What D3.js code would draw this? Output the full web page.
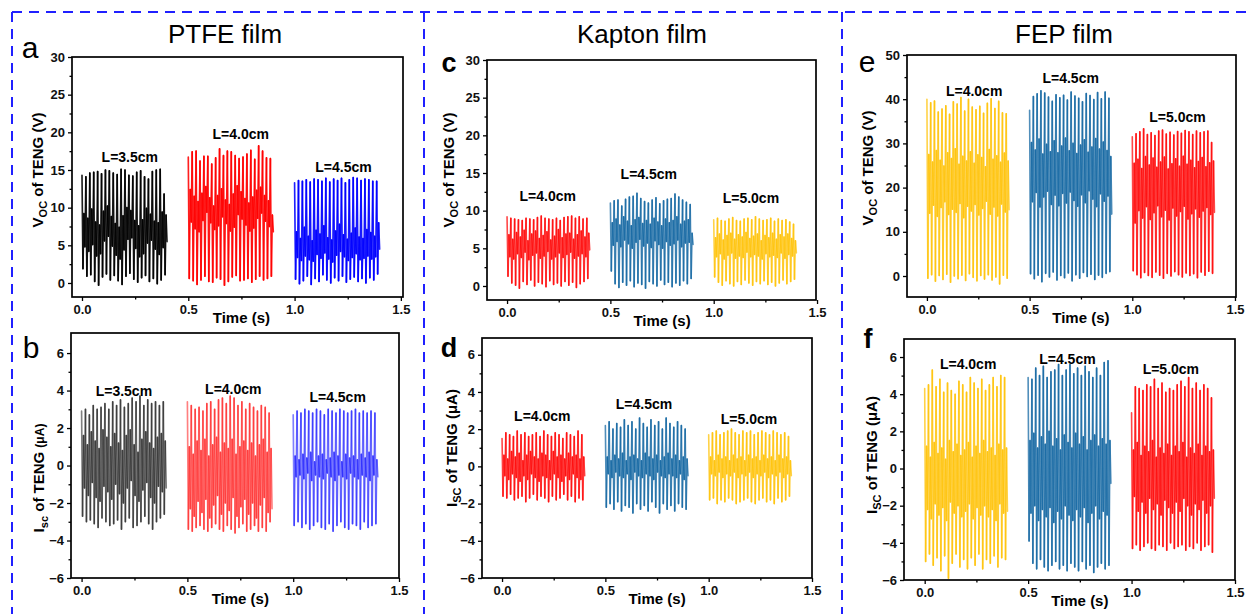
<!DOCTYPE html>
<html>
<head>
<meta charset="utf-8">
<script src="https://cdn.jsdelivr.net/npm/d3@7"></script>
<style>
  html, body { margin: 0; padding: 0; background: #fff; }
  svg { display: block; font-family: "Liberation Sans", Arial, sans-serif; }
</style>
</head>
<body>
<svg id="fig" width="1248" height="614"></svg>
<script>
// ---- axis ticks and labels ----
const timeTicks = [0, 0.5, 1.0, 1.5];
const timeMinor = [0.25, 0.75, 1.25];
const vocTicks30 = [0, 5, 10, 15, 20, 25, 30];
const vocMinor30 = [2.5, 7.5, 12.5, 17.5, 22.5, 27.5];
const vocTicks50 = [0, 10, 20, 30, 40, 50];
const vocMinor50 = [5, 15, 25, 35, 45];
const iscTicks = [-6, -4, -2, 0, 2, 4, 6];
const iscMinor = [-5, -3, -1, 1, 3, 5];

const films = ["PTFE film", "Kapton film", "FEP film"];
const ptfeLabels = ["L=3.5cm", "L=4.0cm", "L=4.5cm"];
const kaptonLabels = ["L=4.0cm", "L=4.5cm", "L=5.0cm"];
const fepLabels = ["L=4.0cm", "L=4.5cm", "L=5.0cm"];

// each recording window (s)
const segStart = [0, 0.5, 1.0];
const segEnd = [0.4, 0.9, 1.4];

// ---- traces: per cycle peak, valley, ring high, ring low ----
// PTFE, Voc (V)
const ptfeVoc35 = [
  14.3, 1.9, 9.2, 4.8,  14.1, 0.9, 8.6, 4.2,  14.6, 1.1, 9.8, 5.1,  14.7, 0.2, 8.1, 3.6,
  14.8, -0.3, 7.7, 3.9,  14.5, 0.8, 9.5, 5.6,  15.0, 1.2, 10.2, 6.2,  14.9, 0.4, 8.8, 4.9,
  14.6, 1.0, 7.9, 3.7,  14.4, 0.3, 7.4, 3.2,  15.1, -0.2, 8.9, 4.4,  15.0, 0.9, 10.0, 5.8,
  14.3, 1.3, 9.6, 6.0,  14.2, 0.5, 8.3, 4.6,  14.7, 0.1, 7.6, 3.5,  14.9, 0.7, 8.4, 3.9,
  14.1, 1.0, 9.9, 5.3,  13.8, 0.2, 9.1, 5.7,  14.8, 0.6, 8.2, 4.5,  15.0, -0.1, 8.0, 3.8,
  15.1, 0.4, 9.4, 4.7,  11.8, 1.1, 9.0, 5.5
];
const ptfeVoc40 = [
  16.7, 0.6, 12.4, 8.1,  17.4, 0.3, 11.5, 7.2,  17.5, -0.2, 10.8, 6.8,  16.2, 0.4, 11.9, 8.3,
  16.8, 0.9, 12.8, 9.4,  16.8, 0.2, 11.3, 8.0,  15.8, 0.1, 10.2, 7.1,  16.6, 0.7, 11.6, 7.6,
  17.8, 0.5, 12.5, 8.8,  16.9, -0.3, 11.0, 7.9,  17.5, 0.2, 10.4, 6.9,  17.4, 0.8, 11.8, 7.4,
  16.9, 1.0, 12.9, 9.1,  16.5, 0.3, 12.1, 8.5,  16.7, 0.4, 11.2, 7.7,  17.1, 0.6, 10.6, 6.9,
  17.6, 0.1, 11.4, 7.3,  16.4, 0.5, 12.3, 8.6,  18.2, 0.9, 12.7, 9.3,  17.5, 0.4, 11.6, 8.2,
  16.6, 0.6, 10.9, 7.5,  16.5, 0.9, 9.0, 6.8
];
const ptfeVoc45 = [
  13.3, 0.5, 6.8, 3.4,  13.6, -0.1, 5.9, 3.0,  13.5, 0.3, 7.4, 3.6,  13.7, 0.9, 6.2, 3.1,
  13.4, -0.2, 5.6, 2.9,  13.8, 0.6, 7.0, 3.8,  13.7, 0.2, 6.5, 3.3,  13.5, 1.1, 7.6, 4.0,
  13.9, 0.4, 6.0, 3.2,  13.4, 0.0, 5.7, 2.8,  13.8, 0.7, 6.9, 3.7,  13.6, 0.3, 7.8, 4.2,
  13.9, 0.9, 6.4, 3.5,  13.3, 0.1, 5.8, 3.0,  13.7, 0.5, 6.6, 3.4,  14.0, 0.8, 7.3, 3.9,
  13.9, 0.2, 6.1, 3.1,  13.6, 0.6, 5.9, 3.3,  13.8, 0.0, 7.1, 3.6,  13.7, 0.7, 6.7, 3.2,
  13.5, 0.4, 6.2, 3.5,  13.5, 1.2, 8.0, 4.5
];
// PTFE, Isc (uA)
const ptfeIsc35 = [
  2.9, -2.7, 1.6, -1.2,  3.0, -3.0, 1.1, -1.6,  2.7, -2.9, 1.8, -0.9,  3.2, -3.1, 1.3, -1.7,
  3.0, -3.3, 0.9, -1.9,  3.1, -2.8, 1.9, -1.1,  3.3, -3.0, 1.5, -1.4,  3.0, -3.2, 1.0, -1.8,
  3.4, -3.1, 1.7, -1.0,  3.2, -2.9, 1.2, -1.5,  3.5, -3.4, 0.8, -2.0,  3.1, -3.0, 1.6, -1.2,
  3.3, -2.8, 1.9, -0.8,  3.6, -3.3, 1.1, -1.6,  3.4, -3.2, 0.7, -1.9,  3.7, -3.0, 1.4, -1.3,
  3.2, -2.7, 1.8, -0.9,  3.5, -3.1, 1.2, -1.7,  3.3, -3.4, 0.9, -2.0,  3.4, -3.0, 1.5, -1.1,
  3.2, -2.8, 1.7, -1.4,  3.4, -2.6, 1.3, -1.2
];
const ptfeIsc40 = [
  3.4, -3.4, 1.0, -2.3,  3.2, -3.5, 0.6, -2.7,  3.0, -3.3, 1.3, -1.9,  3.1, -3.2, 0.8, -2.5,
  2.9, -3.4, 1.4, -1.8,  3.3, -3.5, 0.5, -2.8,  3.4, -3.3, 1.1, -2.1,  3.0, -3.1, 1.5, -1.6,
  3.5, -3.4, 0.7, -2.6,  3.6, -3.5, 1.2, -2.0,  3.3, -3.2, 0.9, -2.4,  3.7, -3.4, 1.4, -1.7,
  3.6, -3.6, 0.6, -2.7,  3.2, -3.3, 1.0, -2.2,  3.4, -3.1, 1.3, -1.8,  3.0, -3.5, 0.8, -2.6,
  3.3, -3.4, 1.2, -2.0,  3.1, -3.2, 0.5, -2.8,  2.9, -3.5, 1.1, -2.1,  3.2, -3.3, 1.4, -1.7,
  3.1, -3.5, 0.7, -2.5,  2.8, -3.0, 0.9, -2.3
];
const ptfeIsc45 = [
  2.7, -3.2, 0.5, -0.6,  2.9, -3.0, 0.3, -0.5,  2.8, -3.3, 0.6, -0.7,  3.0, -3.1, 0.4, -0.4,
  2.9, -3.4, 0.7, -0.8,  2.8, -3.2, 0.2, -0.5,  3.0, -3.0, 0.5, -0.6,  2.9, -3.3, 0.6, -0.7,
  2.7, -3.4, 0.3, -0.4,  3.0, -3.1, 0.4, -0.6,  2.9, -3.5, 0.7, -0.8,  2.8, -3.2, 0.5, -0.5,
  3.0, -3.0, 0.2, -0.6,  2.9, -3.3, 0.6, -0.7,  2.8, -3.4, 0.4, -0.4,  2.9, -3.1, 0.5, -0.6,
  3.0, -3.2, 0.3, -0.7,  2.8, -3.4, 0.6, -0.5,  2.9, -3.0, 0.4, -0.6,  2.8, -3.3, 0.7, -0.8,
  2.9, -3.2, 0.5, -0.5,  2.8, -3.1, 0.3, -0.6
];
// Kapton, Voc (V)
const kaptonVoc40 = [
  9.2, 1.3, 6.8, 3.9,  9.0, 0.4, 6.2, 3.6,  8.9, 0.1, 7.1, 4.3,  8.8, -0.3, 6.5, 3.8,
  8.7, 0.6, 7.4, 4.5,  9.0, 0.2, 6.0, 3.5,  8.9, 0.8, 6.9, 4.1,  8.8, 0.0, 7.3, 4.4,
  9.1, 0.5, 6.3, 3.7,  9.3, 0.3, 6.7, 4.0,  9.0, -0.1, 7.2, 4.6,  8.9, 0.7, 6.1, 3.6,
  8.8, 0.2, 6.6, 3.9,  9.0, 0.4, 7.5, 4.4,  8.7, 0.0, 6.4, 3.8,  9.1, 0.6, 6.9, 4.2,
  9.2, 0.1, 7.0, 4.5,  9.3, 0.5, 6.2, 3.7,  9.0, -0.2, 6.8, 4.0,  9.2, 0.3, 7.3, 4.3,
  8.9, 0.6, 6.5, 3.9,  9.0, 1.0, 7.0, 4.8
];
const kaptonVoc45 = [
  11.0, 2.0, 8.4, 5.4,  11.3, 0.3, 8.9, 5.9,  11.4, -0.2, 8.1, 5.2,  10.6, 0.5, 9.2, 6.1,
  11.5, 0.1, 8.6, 5.6,  11.8, 0.7, 8.0, 5.0,  11.9, -0.1, 8.8, 5.8,  12.3, 0.4, 9.1, 6.2,
  11.6, 0.2, 8.3, 5.3,  11.2, -0.3, 8.7, 5.7,  11.0, 0.6, 8.2, 5.1,  11.4, 0.3, 9.0, 6.0,
  11.7, 0.0, 8.5, 5.5,  10.9, 0.8, 8.0, 5.0,  11.3, 0.2, 8.9, 5.9,  11.5, 0.5, 8.4, 5.4,
  11.6, -0.1, 8.7, 5.6,  12.2, 0.4, 9.2, 6.1,  11.8, 0.1, 8.2, 5.2,  11.4, 0.7, 8.6, 5.7,
  11.1, 0.3, 8.8, 5.8,  10.8, 1.0, 7.0, 5.5
];
const kaptonVoc50 = [
  8.8, 1.2, 6.4, 3.9,  9.0, 0.5, 6.9, 4.3,  8.7, 0.1, 6.1, 3.6,  8.6, 0.7, 6.7, 4.1,
  8.9, 0.3, 7.0, 4.4,  9.1, 0.0, 6.2, 3.7,  8.7, 0.6, 6.8, 4.0,  8.6, 0.2, 6.5, 3.8,
  8.9, 0.8, 7.1, 4.5,  9.0, 0.4, 6.3, 3.9,  8.8, 0.1, 6.6, 4.2,  9.2, 0.6, 6.9, 4.0,
  8.9, 0.3, 6.0, 3.6,  8.7, 0.7, 6.7, 4.3,  8.8, 0.2, 6.4, 3.9,  9.0, 0.5, 7.0, 4.1,
  8.6, 0.0, 6.2, 3.8,  8.9, 0.4, 6.8, 4.4,  8.7, 0.8, 6.5, 3.7,  8.8, 0.3, 6.9, 4.2,
  8.5, 0.6, 6.3, 4.0,  8.2, 0.9, 6.0, 4.4
];
// Kapton, Isc (uA)
const kaptonIsc40 = [
  1.5, -1.6, 0.6, -0.5,  1.8, -1.7, 0.4, -0.7,  1.7, -1.5, 0.8, -0.4,  1.6, -1.8, 0.5, -0.6,
  1.9, -1.7, 0.7, -0.8,  1.7, -1.6, 0.3, -0.5,  1.8, -1.9, 0.6, -0.7,  1.6, -1.7, 0.8, -0.4,
  1.7, -1.5, 0.5, -0.6,  1.8, -1.8, 0.4, -0.8,  1.6, -1.6, 0.7, -0.5,  1.9, -1.7, 0.6, -0.6,
  1.7, -1.9, 0.3, -0.7,  1.6, -1.6, 0.8, -0.4,  1.8, -1.8, 0.5, -0.6,  1.7, -1.7, 0.6, -0.8,
  1.5, -1.5, 0.4, -0.5,  1.8, -1.8, 0.7, -0.7,  1.7, -1.6, 0.5, -0.4,  1.6, -1.9, 0.6, -0.6,
  1.9, -1.7, 0.4, -0.7,  1.7, -1.8, 0.5, -0.5
];
const kaptonIsc45 = [
  2.2, -2.2, 0.5, -0.4,  2.4, -2.0, 0.3, -0.6,  2.0, -2.3, 0.6, -0.3,  2.3, -1.9, 0.4, -0.5,
  2.1, -2.4, 0.7, -0.6,  2.5, -2.1, 0.3, -0.4,  2.2, -2.2, 0.5, -0.7,  2.4, -2.5, 0.6, -0.3,
  2.0, -2.0, 0.4, -0.5,  2.6, -2.3, 0.3, -0.6,  2.3, -2.1, 0.7, -0.4,  2.1, -2.4, 0.5, -0.5,
  2.5, -1.9, 0.4, -0.7,  2.2, -2.2, 0.6, -0.3,  2.4, -2.5, 0.3, -0.5,  2.0, -2.0, 0.5, -0.6,
  2.6, -2.3, 0.7, -0.4,  2.3, -2.1, 0.4, -0.5,  2.1, -2.4, 0.6, -0.6,  2.4, -2.0, 0.3, -0.4,
  2.2, -2.2, 0.5, -0.7,  2.0, -2.3, 0.4, -0.5
];
const kaptonIsc50 = [
  1.7, -1.8, 0.5, -0.4,  1.8, -1.7, 0.3, -0.5,  1.9, -2.0, 0.6, -0.3,  1.7, -1.8, 0.4, -0.6,
  1.8, -1.9, 0.5, -0.4,  1.9, -1.7, 0.3, -0.5,  2.0, -1.8, 0.6, -0.3,  1.8, -2.0, 0.4, -0.6,
  1.7, -1.9, 0.5, -0.4,  1.9, -1.8, 0.3, -0.5,  1.8, -1.7, 0.6, -0.3,  1.9, -1.9, 0.4, -0.6,
  1.7, -2.0, 0.5, -0.4,  1.8, -1.8, 0.3, -0.5,  1.9, -1.7, 0.6, -0.3,  1.8, -1.9, 0.4, -0.6,
  1.7, -1.8, 0.5, -0.4,  1.9, -2.0, 0.3, -0.5,  1.8, -1.7, 0.6, -0.3,  1.7, -1.9, 0.4, -0.6,
  1.8, -1.8, 0.5, -0.4,  1.6, -1.6, 0.3, -0.5
];
// FEP, Voc (V)
const fepVoc40 = [
  40.0, -0.5, 27.5, 14.2,  39.2, 0.3, 25.8, 16.0,  39.6, -1.2, 28.4, 13.5,  37.1, 0.1, 26.2, 15.5,
  37.8, -0.8, 24.9, 16.8,  38.5, 0.4, 27.9, 13.9,  36.6, -1.4, 26.6, 15.1,  39.4, 0.0, 28.8, 14.4,
  38.9, -0.6, 25.3, 16.4,  40.4, 0.2, 27.1, 13.2,  37.3, -1.0, 26.0, 15.8,  40.0, 0.5, 28.1, 14.7,
  38.2, -0.3, 25.5, 16.2,  37.6, -1.1, 27.4, 13.8,  38.4, 0.1, 26.8, 15.3,  36.8, -0.7, 24.7, 16.9,
  39.1, 0.3, 28.6, 14.0,  40.1, -0.9, 26.4, 15.6,  37.9, -0.2, 27.2, 13.6,  39.5, -1.8, 25.7, 16.3,
  36.9, 0.2, 27.8, 14.5,  36.7, -0.5, 26.0, 15.0
];
const fepVoc45 = [
  37.5, 0.5, 30.2, 16.8,  40.6, -0.6, 28.5, 18.9,  41.2, 0.2, 31.0, 15.6,  41.9, -1.3, 27.6, 17.9,
  41.4, 0.6, 29.8, 19.2,  40.5, -0.2, 28.1, 16.2,  39.5, 0.9, 30.6, 18.3,  41.0, -0.9, 27.9, 15.9,
  40.3, 0.1, 29.4, 18.7,  40.9, -0.4, 31.2, 16.5,  39.8, 0.7, 28.3, 19.0,  41.6, -1.1, 30.0, 17.1,
  40.7, 0.3, 27.7, 15.8,  40.2, -0.5, 29.6, 18.4,  39.4, 0.8, 30.8, 16.6,  41.3, -0.1, 28.0, 19.3,
  40.8, 0.4, 29.2, 17.4,  39.9, -0.8, 31.1, 15.7,  41.5, 0.2, 28.7, 18.6,  40.1, -0.3, 30.3, 16.9,
  41.6, 0.6, 28.4, 18.1,  40.2, 1.0, 27.0, 14.0
];
const fepVoc50 = [
  31.5, 1.2, 25.5, 12.0,  32.2, 0.3, 26.4, 14.8,  32.6, -0.4, 24.3, 13.1,  33.3, 0.8, 27.0, 15.7,
  32.0, 0.1, 25.1, 12.8,  32.4, -0.3, 26.7, 14.3,  31.8, 0.9, 24.6, 15.9,  32.8, 0.2, 25.8, 13.4,
  33.0, -0.5, 26.9, 14.9,  32.1, 0.6, 24.2, 12.7,  32.5, 0.0, 25.4, 15.4,  31.9, 1.0, 26.5, 13.6,
  32.7, 0.3, 24.8, 14.6,  32.3, -0.2, 27.1, 15.8,  32.9, 0.7, 25.3, 12.9,  32.6, 0.1, 26.2, 14.1,
  32.0, 0.5, 24.5, 15.2,  32.8, -0.4, 25.9, 13.3,  32.4, 0.9, 26.8, 14.7,  32.6, 0.2, 24.7, 15.5,
  32.8, 1.1, 25.6, 13.9,  30.2, 0.6, 26.0, 14.4
];
// FEP, Isc (uA)
const fepIsc40 = [
  4.3, -5.0, 1.2, -2.2,  4.5, -4.6, 0.6, -2.7,  5.3, -5.2, 1.4, -1.9,  4.4, -4.8, 0.8, -2.5,
  4.8, -5.5, 1.1, -2.1,  4.1, -4.7, 0.5, -2.8,  4.6, -5.9, 1.5, -1.8,  4.2, -5.1, 0.9, -2.4,
  4.0, -4.6, 1.3, -2.0,  4.7, -5.3, 0.7, -2.6,  4.5, -4.9, 1.0, -2.3,  4.1, -5.4, 1.4, -1.9,
  4.9, -4.8, 0.6, -2.7,  4.6, -5.2, 1.2, -2.1,  4.3, -4.6, 0.8, -2.5,  4.8, -5.4, 1.5, -2.0,
  4.2, -4.9, 0.9, -2.6,  4.5, -5.1, 1.1, -2.2,  4.9, -4.7, 0.7, -2.8,  4.4, -5.3, 1.3, -1.9,
  5.0, -4.8, 1.0, -2.4,  4.9, -4.9, 1.1, -2.3
];
const fepIsc45 = [
  4.9, -3.9, 1.5, -2.4,  4.8, -5.1, 1.9, -2.0,  5.4, -5.4, 1.1, -2.8,  5.0, -4.9, 1.7, -2.2,
  5.5, -5.3, 1.3, -2.6,  4.9, -5.5, 2.0, -2.1,  5.2, -5.2, 1.2, -2.9,  5.3, -5.0, 1.6, -2.3,
  5.6, -5.4, 1.0, -2.7,  5.0, -5.2, 1.8, -2.0,  5.3, -5.5, 1.4, -2.5,  5.6, -5.1, 1.1, -2.8,
  5.1, -5.3, 1.9, -2.2,  5.4, -5.5, 1.3, -2.6,  5.0, -5.0, 1.7, -2.1,  5.5, -5.4, 1.0, -2.9,
  5.2, -5.2, 1.5, -2.4,  4.9, -5.6, 1.8, -2.0,  5.4, -5.3, 1.2, -2.7,  5.0, -5.1, 1.6, -2.3,
  5.7, -5.4, 1.3, -2.5,  5.8, -5.2, 1.5, -0.8
];
const fepIsc50 = [
  3.0, -4.3, 1.0, -1.5,  4.4, -4.1, 1.4, -2.3,  4.3, -4.4, 0.7, -1.8,  4.2, -4.2, 1.2, -2.4,
  4.5, -4.0, 0.9, -1.6,  4.4, -4.3, 1.5, -2.2,  4.8, -4.4, 0.6, -1.9,  4.3, -4.1, 1.1, -2.5,
  4.6, -4.2, 0.8, -1.7,  4.1, -4.4, 1.3, -2.1,  4.3, -4.0, 0.7, -2.4,  4.2, -4.3, 1.2, -1.8,
  4.5, -4.2, 0.9, -2.3,  4.7, -4.1, 1.4, -1.6,  4.4, -4.4, 0.6, -2.0,  4.9, -4.2, 1.1, -2.5,
  4.3, -4.3, 0.8, -1.9,  4.6, -4.0, 1.3, -2.2,  4.2, -4.4, 0.7, -1.7,  4.5, -4.2, 1.2, -2.4,
  4.3, -4.1, 0.9, -2.0,  3.8, -4.5, 1.0, -1.6
];

// ---- layout for the six panels ----
const RED = "#ff0000", BLACK = "#000000", BLUE = "#0000ff";
const STEEL = "#0d62a0", GOLD = "#ffc000";

const panels = [
  { letter: "a", bold: false, box: [72, 57, 403, 297], xDom: [-0.047, 1.51], yDom: [-1.86, 30],
    yTicks: vocTicks30, yMinor: vocMinor30, kind: "voc", sub: "OC",
    traces: [ptfeVoc35, ptfeVoc40, ptfeVoc45], colors: [BLACK, RED, BLUE], alpha: 0.88, width: 1.65,
    labels: ptfeLabels, labelAt: [[0.225, 16.7], [0.747, 19.7], [1.23, 15.4]],
    letterAt: [30, 58], titleAt: [38, 170] },
  { letter: "b", bold: false, box: [71, 333, 399, 578], xDom: [-0.05, 1.5], yDom: [-6, 7.07],
    yTicks: iscTicks, yMinor: iscMinor, kind: "isc", sub: "sc", smallUnit: true,
    traces: [ptfeIsc35, ptfeIsc40, ptfeIsc45], colors: [BLACK, RED, BLUE], alpha: 0.5, width: 1.65,
    labels: ptfeLabels, labelAt: [[0.2, 3.97], [0.717, 4.08], [1.21, 3.65]],
    letterAt: [31, 358], titleAt: [39, 478] },
  { letter: "c", bold: true, box: [487, 60, 816, 300], xDom: [-0.097, 1.495], yDom: [-1.86, 30],
    yTicks: vocTicks30, yMinor: vocMinor30, kind: "voc", sub: "OC",
    traces: [kaptonVoc40, kaptonVoc45, kaptonVoc50], colors: [RED, STEEL, GOLD], alpha: 0.72, width: 1.6,
    labels: kaptonLabels, labelAt: [[0.197, 11.95], [0.686, 14.9], [1.18, 11.7]],
    letterAt: [449, 72], titleAt: [449, 170] },
  { letter: "d", bold: true, box: [482, 338, 812, 578], xDom: [-0.097, 1.5], yDom: [-6, 6.9],
    yTicks: iscTicks, yMinor: iscMinor, kind: "isc", sub: "SC",
    traces: [kaptonIsc40, kaptonIsc45, kaptonIsc50], colors: [RED, STEEL, GOLD], alpha: 0.72, width: 1.6,
    labels: kaptonLabels, labelAt: [[0.195, 2.72], [0.687, 3.36], [1.195, 2.56]],
    letterAt: [449, 357], titleAt: [452, 448] },
  { letter: "e", bold: false, box: [907, 55, 1236, 297], xDom: [-0.097, 1.505], yDom: [-4.75, 50],
    yTicks: vocTicks50, yMinor: vocMinor50, kind: "voc", sub: "OC",
    traces: [fepVoc40, fepVoc45, fepVoc50], colors: [GOLD, STEEL, RED], alpha: 0.72, width: 1.6,
    labels: fepLabels, labelAt: [[0.23, 41.9], [0.70, 44.8], [1.22, 36.0]],
    letterAt: [867, 72], titleAt: [868, 168] },
  { letter: "f", bold: true, box: [904, 339, 1235, 580], xDom: [-0.1, 1.5], yDom: [-6, 6.97],
    yTicks: iscTicks, yMinor: iscMinor, kind: "isc", sub: "SC",
    traces: [fepIsc40, fepIsc45, fepIsc50], colors: [GOLD, STEEL, RED], alpha: 0.72, width: 1.6,
    labels: fepLabels, labelAt: [[0.21, 5.62], [0.69, 5.89], [1.19, 5.36]],
    letterAt: [868, 348], titleAt: [872, 455] }
];

const filmTitleX = [225, 642, 1064];
const dividerX = [12, 424, 842];

const svg = d3.select("#fig");
const FONT = "'Liberation Sans', Arial, sans-serif";

// dashed frame around the three columns
const border = svg.append("g")
  .attr("stroke", "#2020ff")
  .attr("stroke-width", 2)
  .attr("stroke-dasharray", "10,7");
border.append("line").attr("x1", 12).attr("x2", 1248).attr("y1", 12).attr("y2", 12);
border.selectAll("line.v")
  .data(dividerX)
  .join("line")
  .attr("class", "v")
  .attr("x1", d => d).attr("x2", d => d)
  .attr("y1", 12).attr("y2", 614);

svg.selectAll("text.film")
  .data(films)
  .join("text")
  .attr("class", "film")
  .attr("x", (d, i) => filmTitleX[i])
  .attr("y", 43)
  .attr("text-anchor", "middle")
  .attr("font-size", 26)
  .text(d => d);

function drawPanel(p) {
  const [x0, y0, x1, y1] = p.box;
  const x = d3.scaleLinear().domain(p.xDom).range([x0, x1]);
  const y = d3.scaleLinear().domain(p.yDom).range([y1, y0]);
  const g = svg.append("g");

  // traces: one <line> per sample step so overlaps build up darker, as in the scan
  p.traces.forEach((trace, k) => {
    const dt = (segEnd[k] - segStart[k]) / (trace.length - 1);
    const pts = trace.map((v, i) => [segStart[k] + i * dt, v]);
    g.append("g")
      .attr("stroke", p.colors[k])
      .attr("stroke-opacity", p.alpha)
      .attr("stroke-width", p.width)
      .attr("stroke-linecap", "round")
      .selectAll("line")
      .data(d3.pairs(pts))
      .join("line")
      .attr("x1", d => x(d[0][0])).attr("y1", d => y(d[0][1]))
      .attr("x2", d => x(d[1][0])).attr("y2", d => y(d[1][1]));
  });

  // axes
  const styleAxis = sel => {
    sel.select(".domain").remove();
    sel.selectAll("line").attr("stroke", "#000").attr("stroke-width", 1.3);
    sel.selectAll("text")
      .attr("font-family", FONT)
      .attr("font-size", 13)
      .attr("font-weight", "bold")
      .attr("fill", "#111");
  };
  g.append("g")
    .attr("transform", `translate(0,${y1})`)
    .call(d3.axisBottom(x).tickValues(timeTicks).tickSize(4).tickPadding(4).tickFormat(d3.format(".1f")))
    .call(styleAxis);
  g.append("g")
    .attr("transform", `translate(0,${y1})`)
    .call(d3.axisBottom(x).tickValues(timeMinor).tickSize(2.5).tickFormat(""))
    .call(styleAxis);
  g.append("g")
    .attr("transform", `translate(${x0},0)`)
    .call(d3.axisLeft(y).tickValues(p.yTicks).tickSize(4).tickPadding(3).tickFormat(d3.format("d")))
    .call(styleAxis);
  g.append("g")
    .attr("transform", `translate(${x0},0)`)
    .call(d3.axisLeft(y).tickValues(p.yMinor).tickSize(2.5).tickFormat(""))
    .call(styleAxis);

  g.append("rect")
    .attr("x", x0).attr("y", y0)
    .attr("width", x1 - x0).attr("height", y1 - y0)
    .attr("fill", "none")
    .attr("stroke", "#000")
    .attr("stroke-width", 1.7);

  // segment labels
  g.selectAll("text.seg")
    .data(p.labels)
    .join("text")
    .attr("class", "seg")
    .attr("x", (d, i) => x(p.labelAt[i][0]))
    .attr("y", (d, i) => y(p.labelAt[i][1]))
    .attr("dy", "0.35em")
    .attr("text-anchor", "middle")
    .attr("font-size", 14)
    .attr("font-weight", "bold")
    .text(d => d);

  // x title
  g.append("text")
    .attr("x", x(0.75))
    .attr("y", y1 + 21)
    .attr("dy", "0.35em")
    .attr("text-anchor", "middle")
    .attr("font-size", 15)
    .attr("font-weight", "bold")
    .text("Time (s)");

  // y title
  const yt = g.append("text")
    .attr("transform", `translate(${p.titleAt[0]},${p.titleAt[1]}) rotate(-90)`)
    .attr("dy", "0.35em")
    .attr("text-anchor", "middle")
    .attr("font-size", 15)
    .attr("font-weight", "bold");
  if (p.kind === "voc") {
    yt.append("tspan").text("V");
    yt.append("tspan").attr("font-size", 11).attr("dy", 4).text(p.sub);
    yt.append("tspan").attr("dy", -4).text(" of TENG (V)");
  } else {
    yt.append("tspan").text("I");
    yt.append("tspan").attr("font-size", 11).attr("dy", 4).text(p.sub);
    yt.append("tspan").attr("dy", -4).text(" of TENG ");
    yt.append("tspan").attr("font-size", p.smallUnit ? 12 : 15).text("(\u03bcA)");
  }

  // panel letter
  g.append("text")
    .attr("x", p.letterAt[0])
    .attr("y", p.letterAt[1])
    .attr("text-anchor", "middle")
    .attr("font-size", p.bold ? 27 : 30)
    .attr("font-weight", p.bold ? "bold" : "normal")
    .text(p.letter);
}

panels.forEach(drawPanel);
</script>
</body>
</html>
